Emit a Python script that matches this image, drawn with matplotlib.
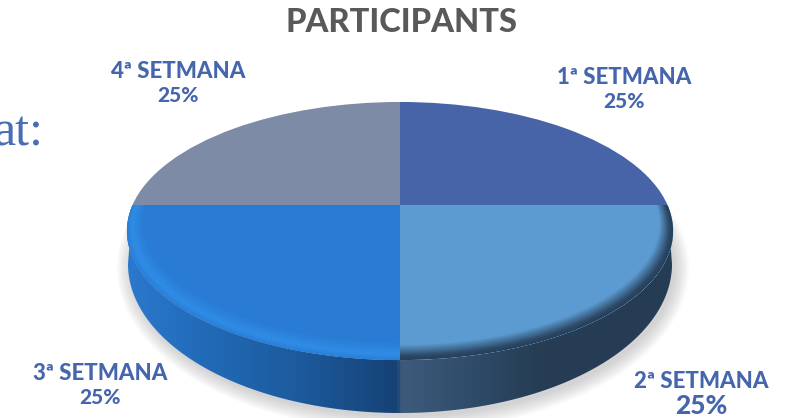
import numpy as np
import matplotlib
matplotlib.use("Agg")
import matplotlib.pyplot as plt
from matplotlib.colors import LinearSegmentedColormap, to_rgb
from matplotlib.patches import Circle, Ellipse, Polygon
from matplotlib.transforms import Transform

title = "PARTICIPANTS"
weeks = ["1ª SETMANA", "2ª SETMANA", "3ª SETMANA", "4ª SETMANA"]
shares = [25, 25, 25, 25]
slice_colors = ["#4864a8", "#5c9bd1", "#297bd3", "#7d8ba6"]
label_x = [624, 701, 100, 178]
label_y = [89, 393, 386, 84]


# la cara superior: cercle unitari vist en perspectiva, en pixels
class TopFace(Transform):
    input_dims = 2
    output_dims = 2
    has_inverse = False

    def transform_non_affine(self, values):
        values = np.asarray(values, dtype=float)
        u, v = values[:, 0], values[:, 1]
        w = 1 + 0.2016 * v
        return np.column_stack((400 + 267.5 * u / w, 205 - 123.8 * v / w))


def blend(c1, c2, t):
    c1, c2 = np.array(to_rgb(c1)), np.array(to_rgb(c2))
    return tuple(c1 + (c2 - c1) * t)


def add_rim(ax, base, stops, transform):
    # anells concentrics tangents a la part de darrere, per fer el bisell
    radii = np.linspace(stops[0][0], stops[-1][0], 30)
    rr = [s[0] for s in stops]
    for r in radii:
        idx = min(np.searchsorted(-np.array(rr), -r, side="right") - 1, len(stops) - 2)
        t = (rr[idx] - r) / (rr[idx] - rr[idx + 1])
        c = Circle((0, 1 - r), r, fc=blend(stops[idx][1], stops[idx + 1][1], t), ec="none", zorder=4)
        c.set_transform(transform)
        ax.add_patch(c)
        c.set_clip_path(base)


fig = plt.figure(figsize=(7.87, 4.18), dpi=100)
ax = fig.add_axes([0, 0, 1, 1])
face = TopFace() + ax.transData

wedges, _ = ax.pie(shares, colors=slice_colors, startangle=90, counterclock=False,
                   wedgeprops={"linewidth": 0})
for w in wedges:
    w.set_transform(face)
    w.set_zorder(3)

# ombra sota el formatge
for i, grow in enumerate(np.linspace(14, 0, 10)):
    ax.add_patch(Ellipse((403, 268), 2 * (272 + grow), 2 * (149 + grow), fc="#8f8f98",
                         ec="none", alpha=0.045, zorder=1))

# paret lateral amb degradat horitzontal
theta = np.linspace(np.pi, 2 * np.pi, 200)
top_pts = TopFace().transform(np.column_stack((np.cos(theta), np.sin(theta))))
low_pts = np.column_stack((400 + 272 * np.cos(theta), 264 - 149 * np.sin(theta)))
wall_shape = Polygon(np.vstack((top_pts, low_pts[::-1])), closed=True, transform=ax.transData,
                     fc="none", ec="none")
ax.add_patch(wall_shape)
wall_cmap = LinearSegmentedColormap.from_list("wall", [
    (0.0, "#2a78cd"), (130 / 787, "#2a78cd"), (200 / 787, "#226bb9"), (300 / 787, "#1c5a9c"),
    (396 / 787, "#164276"), (402 / 787, "#3e5b7c"), (470 / 787, "#2f4c6a"),
    (540 / 787, "#263d54"), (1.0, "#243c54")])
wall = ax.imshow(np.linspace(0, 1, 787).reshape(1, -1), cmap=wall_cmap, aspect="auto",
                 extent=(0, 787, 418, 0), zorder=2)
wall.set_clip_path(wall_shape)

add_rim(ax, wedges[1], [(1.0, "#27405a"), (0.99, "#2c4865"), (0.96, slice_colors[1])], face)
add_rim(ax, wedges[2], [(1.0, "#2a7fd8"), (0.985, "#2f8de6"), (0.95, slice_colors[2])], face)

ax.set_xlim(0, 787)
ax.set_ylim(418, 0)
ax.set_aspect("auto")
ax.axis("off")

ax.text(401, 23, title, ha="center", va="center", family="Lato", weight="black",
        fontsize=23.5, color="#595959")
for name, share, x, y in zip(weeks, shares, label_x, label_y):
    big = name.startswith("2")
    ax.text(x, y - 12, name, ha="center", va="center", family="Lato", weight="black",
            fontsize=16, color="#4565ad")
    ax.text(x, y + 12 + (1 if big else 0), f"{share}%", ha="center", va="center", family="Lato",
            weight="black", fontsize=19 if big else 15, color="#4565ad")

# tros de text de la diapositiva del darrere
ax.text(43, 146, "at:", ha="right", va="baseline", family="Liberation Serif", fontsize=36,
        color="#4a6db5")

plt.savefig("out.png", dpi=100)
plt.close()
